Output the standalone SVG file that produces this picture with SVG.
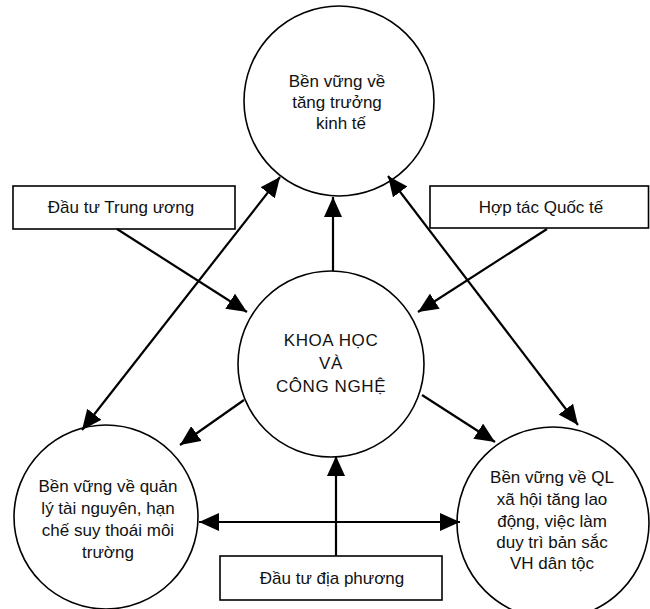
<svg xmlns="http://www.w3.org/2000/svg" width="650" height="609" viewBox="0 0 650 609">
<style>
.node circle, .node rect { fill: #fff; stroke: #000; stroke-width: 1.6; }
text { font-family: "Liberation Sans", Arial, sans-serif; font-size: 17px; fill: #111; text-anchor: middle; }
.kh { letter-spacing: 0.6px; }
.conn line { stroke: #000; stroke-width: 2.2; fill: none; }
</style>
<defs>
<marker id="ah" viewBox="0 0 20 18" refX="20" refY="9" markerWidth="20" markerHeight="18" markerUnits="userSpaceOnUse" orient="auto-start-reverse">
<path d="M0,0 L20,9 L0,18 z" fill="#000"/>
</marker>
</defs>
<rect width="650" height="609" fill="#fff"/>
<g id="top" class="node">
<circle cx="339" cy="101" r="95"/>
<text x="337" y="87">Bền vững về</text>
<text x="337" y="108">tăng trưởng</text>
<text x="341" y="129">kinh tế</text>
</g>
<g id="center" class="node">
<circle cx="331" cy="364" r="93"/>
<text class="kh" x="331" y="346">KHOA HỌC</text>
<text class="kh" x="331" y="369">VÀ</text>
<text class="kh" x="331" y="392">CÔNG NGHỆ</text>
</g>
<g id="bottomleft" class="node">
<circle cx="106" cy="517" r="92"/>
<text x="108" y="492">Bền vững về quản</text>
<text x="108" y="514">lý tài nguyên, hạn</text>
<text x="108" y="536">chế suy thoái môi</text>
<text x="108" y="558">trường</text>
</g>
<g id="bottomright" class="node">
<circle cx="553" cy="523" r="96"/>
<text x="552" y="483">Bền vững về QL</text>
<text x="552" y="505">xã hội tăng lao</text>
<text x="552" y="527">động, việc làm</text>
<text x="552" y="548">duy trì bản sắc</text>
<text x="552" y="569">VH dân tộc</text>
</g>
<g id="trunguong" class="node">
<rect x="13" y="186" width="222" height="43"/>
<text x="121" y="213">Đầu tư Trung ương</text>
</g>
<g id="hoptac" class="node">
<rect x="430" y="186" width="218.5" height="42"/>
<text x="541" y="213">Hợp tác Quốc tế</text>
</g>
<g id="diaphuong" class="node">
<rect x="220" y="556" width="222" height="44"/>
<text x="332" y="584">Đầu tư địa phương</text>
</g>
<g id="connectors" class="conn">
<line x1="117" y1="229" x2="247" y2="312" marker-end="url(#ah)"/>
<line x1="547" y1="229" x2="418" y2="312" marker-end="url(#ah)"/>
<line x1="82" y1="430" x2="280" y2="177" marker-start="url(#ah)" marker-end="url(#ah)"/>
<line x1="578" y1="425" x2="388" y2="176" marker-start="url(#ah)" marker-end="url(#ah)"/>
<line x1="333" y1="271" x2="333" y2="197" marker-end="url(#ah)"/>
<line x1="244" y1="400" x2="180" y2="445" marker-end="url(#ah)"/>
<line x1="422" y1="395" x2="495" y2="442" marker-end="url(#ah)"/>
<line x1="199" y1="522" x2="460" y2="522" marker-start="url(#ah)" marker-end="url(#ah)"/>
<line x1="336" y1="556" x2="336" y2="456" marker-end="url(#ah)"/>
</g>
</svg>
